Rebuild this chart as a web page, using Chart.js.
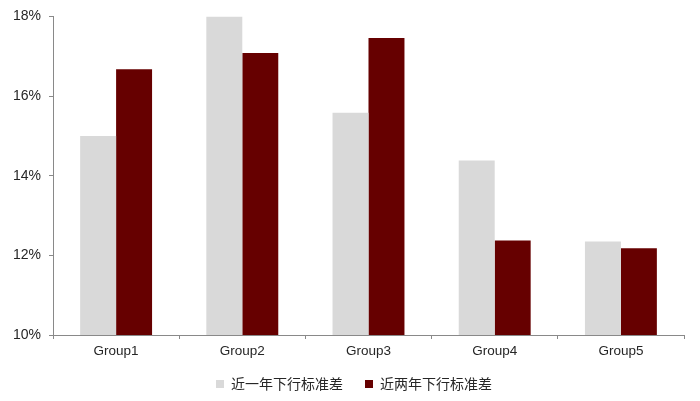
<!DOCTYPE html>
<html>
<head>
<meta charset="utf-8">
<script src="https://cdn.jsdelivr.net/npm/chart.js@4/dist/chart.umd.min.js"></script>
<style>
  html, body { margin: 0; padding: 0; background: #fff; }
  #wrap { width: 700px; height: 401px; }
</style>
</head>
<body>
<div id="wrap"><canvas id="myChart"></canvas></div>
<script>
const categories = ["Group1", "Group2", "Group3", "Group4", "Group5"];
const oneYear = [15.0, 18.0, 15.58, 14.38, 12.35];
const twoYear = [16.67, 17.08, 17.46, 12.37, 12.18];
const seriesNames = ["近一年下行标准差", "近两年下行标准差"];
const yTicks = [10, 12, 14, 16, 18];

const latin = "'Liberation Sans', Arial, 'Noto Sans CJK SC', sans-serif";
const axisColor = "#898989";

// move the legend a bit, the bottom axis needs its full height for the labels
const legendNudge = {
  id: "legendNudge",
  afterLayout(chart) {
    const lg = chart.legend;
    lg.top -= 5; lg.bottom -= 5;
    lg.left += 12; lg.right += 12;
  }
};

new Chart("myChart", {
  type: "bar",
  data: {
    labels: categories,
    datasets: [
      { label: seriesNames[0], data: oneYear, backgroundColor: "#d9d9d9", borderWidth: 0 },
      { label: seriesNames[1], data: twoYear, backgroundColor: "#660000", borderWidth: 0 }
    ]
  },
  plugins: [legendNudge],
  options: {
    responsive: true,
    maintainAspectRatio: false,
    animation: false,
    layout: { padding: { top: 13, right: 16, left: 0, bottom: 0 } },
    datasets: { bar: { barPercentage: 1, categoryPercentage: 0.57 } },
    plugins: {
      tooltip: { enabled: false },
      legend: {
        position: "bottom",
        maxHeight: 41,
        labels: {
          boxWidth: 8,
          boxHeight: 8,
          padding: 22,
          color: "#262626",
          font: { family: "'Noto Sans CJK SC', sans-serif", size: 14 }
        }
      }
    },
    scales: {
      x: {
        grid: { display: true, drawOnChartArea: false, offset: true, tickLength: 4, color: axisColor },
        border: { color: axisColor, width: 1 },
        ticks: { color: "#262626", padding: 4, font: { family: latin, size: 13.5 } },
        afterFit: (scale) => { scale.height = 25; }
      },
      y: {
        min: 10,
        max: 18,
        afterBuildTicks: (scale) => { scale.ticks = yTicks.map(v => ({ value: v })); },
        grid: { display: true, drawOnChartArea: false, tickLength: 4, color: axisColor },
        border: { color: axisColor, width: 1 },
        ticks: {
          color: "#262626",
          padding: 8,
          font: { family: latin, size: 14 },
          callback: (v) => v + "%"
        },
        afterFit: (scale) => { scale.width = 53; }
      }
    }
  }
});
</script>
</body>
</html>
